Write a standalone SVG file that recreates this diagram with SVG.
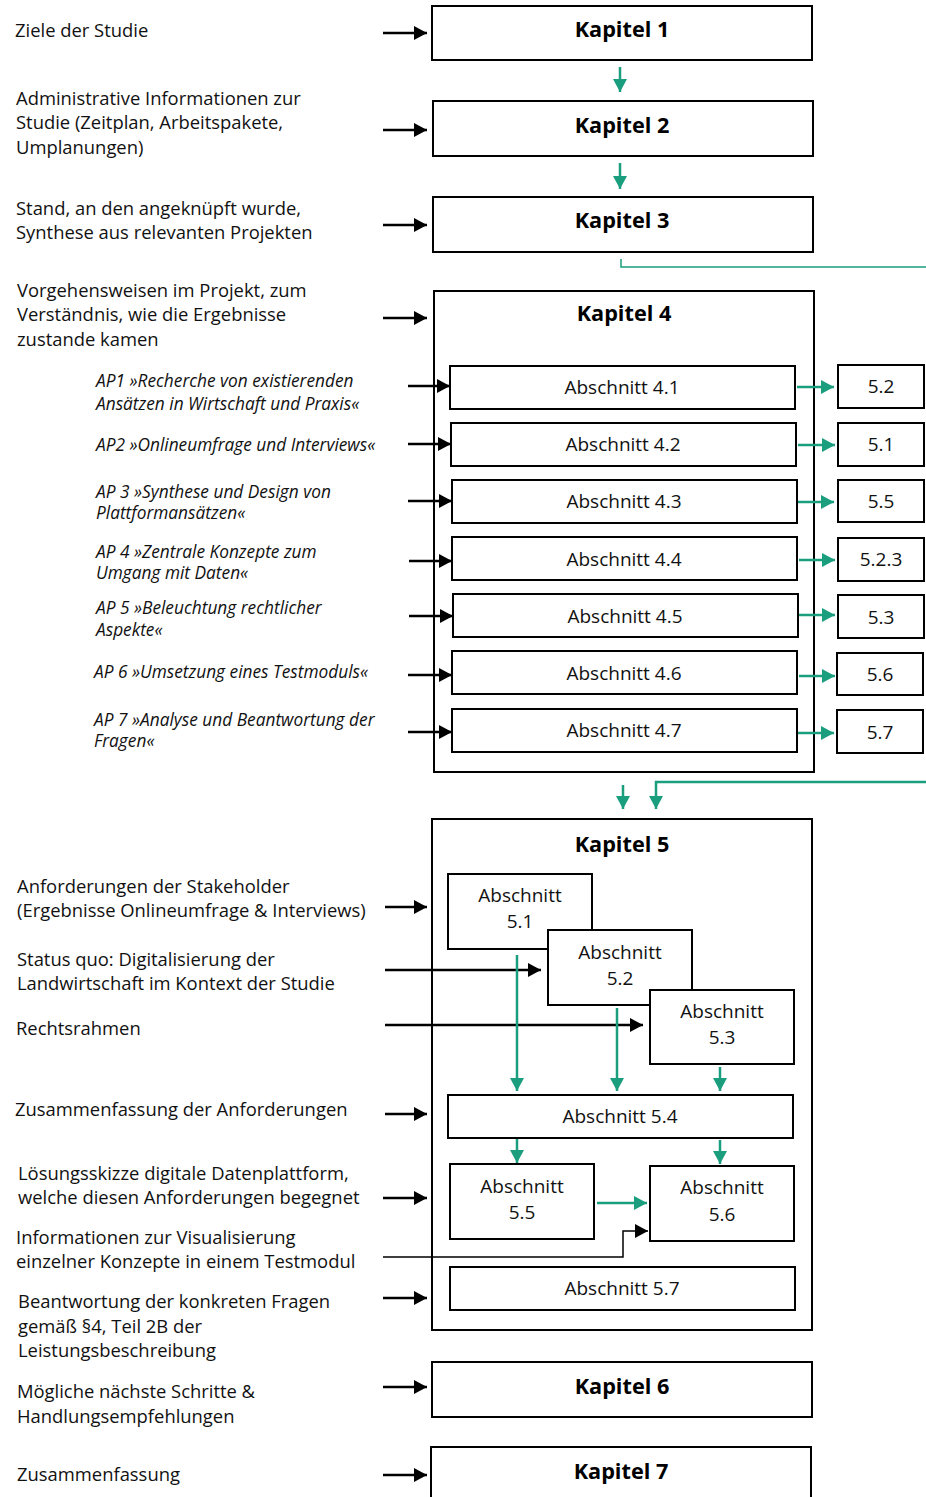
<svg xmlns="http://www.w3.org/2000/svg" width="926" height="1497" viewBox="0 0 926 1497">
  <defs>
    <marker id="ah-black" markerUnits="userSpaceOnUse" markerWidth="13" markerHeight="14" refX="13" refY="7" orient="auto">
      <path d="M0,0 L13,7 L0,14 Z" fill="#000"/>
    </marker>
    <marker id="ah-green" markerUnits="userSpaceOnUse" markerWidth="13" markerHeight="14" refX="13" refY="7" orient="auto">
      <path d="M0,0 L13,7 L0,14 Z" fill="#1a9e7e"/>
    </marker>
    <style>
      .box { fill: #fff; stroke: #000; stroke-width: 2; }
      .frame { fill: none; stroke: #000; stroke-width: 2; }
      .kap { font-family: "Open Sans", "Noto Sans", sans-serif; font-weight: bold; font-size: 21.7px; fill: #000; text-anchor: middle; }
      .sec { font-family: "Open Sans", "Noto Sans", sans-serif; font-size: 19px; fill: #111; text-anchor: middle; }
      .lbl { font-family: "Open Sans", "Noto Sans", sans-serif; font-size: 18.4px; fill: #111; }
      .ap { font-family: "Open Sans", "Noto Sans", sans-serif; font-style: italic; font-size: 17.3px; fill: #111; }
      .blk { fill: none; stroke: #000; stroke-width: 2.5; marker-end: url(#ah-black); }
      .blk-thin { fill: none; stroke: #000; stroke-width: 1.5; marker-end: url(#ah-black); }
      .grn { fill: none; stroke: #1a9e7e; stroke-width: 2.5; marker-end: url(#ah-green); }
      .grn-line { fill: none; stroke: #1a9e7e; stroke-width: 1.5; }
    </style>
  </defs>

  <!-- chapter boxes -->
  <g id="kapitel1"><rect class="box" x="432" y="6" width="380" height="54"/><text class="kap" x="622" y="37">Kapitel 1</text></g>
  <g id="kapitel2"><rect class="box" x="433" y="101" width="380" height="55"/><text class="kap" x="622" y="133">Kapitel 2</text></g>
  <g id="kapitel3"><rect class="box" x="433" y="197" width="380" height="55"/><text class="kap" x="622" y="228">Kapitel 3</text></g>

  <g id="kapitel4">
    <rect class="frame" x="434" y="291" width="380" height="481"/>
    <text class="kap" x="624" y="321">Kapitel 4</text>
  </g>
  <g id="abschnitt4-1"><rect class="box" x="450" y="366" width="345" height="43"/><text class="sec" x="622" y="394">Abschnitt 4.1</text></g>
  <g id="abschnitt4-2"><rect class="box" x="451" y="423" width="345" height="43"/><text class="sec" x="623" y="451">Abschnitt 4.2</text></g>
  <g id="abschnitt4-3"><rect class="box" x="452" y="480" width="345" height="43"/><text class="sec" x="624" y="508">Abschnitt 4.3</text></g>
  <g id="abschnitt4-4"><rect class="box" x="452" y="537" width="345" height="43"/><text class="sec" x="624" y="566">Abschnitt 4.4</text></g>
  <g id="abschnitt4-5"><rect class="box" x="453" y="594" width="345" height="43"/><text class="sec" x="625" y="623">Abschnitt 4.5</text></g>
  <g id="abschnitt4-6"><rect class="box" x="452" y="651" width="345" height="43"/><text class="sec" x="624" y="680">Abschnitt 4.6</text></g>
  <g id="abschnitt4-7"><rect class="box" x="452" y="709" width="345" height="43"/><text class="sec" x="624" y="737">Abschnitt 4.7</text></g>

  <!-- cross references into chapter 5 -->
  <g id="ref5-2"><rect class="box" x="838" y="365" width="86" height="43"/><text class="sec" x="881" y="393">5.2</text></g>
  <g id="ref5-1"><rect class="box" x="838" y="423" width="86" height="43"/><text class="sec" x="881" y="451">5.1</text></g>
  <g id="ref5-5"><rect class="box" x="838" y="480" width="86" height="42"/><text class="sec" x="881" y="508">5.5</text></g>
  <g id="ref5-2-3"><rect class="box" x="838" y="538" width="86" height="43"/><text class="sec" x="881" y="566">5.2.3</text></g>
  <g id="ref5-3"><rect class="box" x="838" y="595" width="86" height="43"/><text class="sec" x="881" y="624">5.3</text></g>
  <g id="ref5-6"><rect class="box" x="837" y="653" width="86" height="42"/><text class="sec" x="880" y="681">5.6</text></g>
  <g id="ref5-7"><rect class="box" x="837" y="710" width="86" height="43"/><text class="sec" x="880" y="739">5.7</text></g>

  <g id="kapitel5">
    <rect class="frame" x="432" y="819" width="380" height="511"/>
    <text class="kap" x="622" y="852">Kapitel 5</text>
  </g>
  <g id="abschnitt5-1"><rect class="box" x="448" y="874" width="144" height="75"/><text class="sec" x="520" y="902">Abschnitt</text><text class="sec" x="520" y="928">5.1</text></g>
  <g id="abschnitt5-2"><rect class="box" x="548" y="930" width="144" height="75"/><text class="sec" x="620" y="959">Abschnitt</text><text class="sec" x="620" y="985">5.2</text></g>
  <g id="abschnitt5-3"><rect class="box" x="650" y="990" width="144" height="74"/><text class="sec" x="722" y="1018">Abschnitt</text><text class="sec" x="722" y="1044">5.3</text></g>
  <g id="abschnitt5-4"><rect class="box" x="448" y="1095" width="345" height="43"/><text class="sec" x="620" y="1123">Abschnitt 5.4</text></g>
  <g id="abschnitt5-5"><rect class="box" x="450" y="1164" width="144" height="75"/><text class="sec" x="522" y="1193">Abschnitt</text><text class="sec" x="522" y="1219">5.5</text></g>
  <g id="abschnitt5-6"><rect class="box" x="650" y="1166" width="144" height="75"/><text class="sec" x="722" y="1194">Abschnitt</text><text class="sec" x="722" y="1221">5.6</text></g>
  <g id="abschnitt5-7"><rect class="box" x="450" y="1267" width="345" height="43"/><text class="sec" x="622" y="1295">Abschnitt 5.7</text></g>

  <g id="kapitel6"><rect class="box" x="432" y="1362" width="380" height="55"/><text class="kap" x="622" y="1394">Kapitel 6</text></g>
  <g id="kapitel7"><rect class="box" x="431" y="1447" width="380" height="60"/><text class="kap" x="621" y="1479">Kapitel 7</text></g>

  <!-- descriptions on the left -->
  <g id="labels">
    <text class="lbl" x="15" y="37">Ziele der Studie</text>
    <text class="lbl" x="16" y="105">Administrative Informationen zur</text>
    <text class="lbl" x="16" y="129">Studie (Zeitplan, Arbeitspakete,</text>
    <text class="lbl" x="16" y="154">Umplanungen)</text>
    <text class="lbl" x="16" y="215">Stand, an den angeknüpft wurde,</text>
    <text class="lbl" x="16" y="239">Synthese aus relevanten Projekten</text>
    <text class="lbl" x="17" y="297">Vorgehensweisen im Projekt, zum</text>
    <text class="lbl" x="17" y="321">Verständnis, wie die Ergebnisse</text>
    <text class="lbl" x="17" y="346">zustande kamen</text>

    <text class="ap" x="96" y="387">AP1 »Recherche von existierenden</text>
    <text class="ap" x="96" y="410">Ansätzen in Wirtschaft und Praxis«</text>
    <text class="ap" x="96" y="451">AP2 »Onlineumfrage und Interviews«</text>
    <text class="ap" x="96" y="498">AP 3 »Synthese und Design von</text>
    <text class="ap" x="96" y="519">Plattformansätzen«</text>
    <text class="ap" x="96" y="558">AP 4 »Zentrale Konzepte zum</text>
    <text class="ap" x="96" y="579">Umgang mit Daten«</text>
    <text class="ap" x="96" y="614">AP 5 »Beleuchtung rechtlicher</text>
    <text class="ap" x="96" y="636">Aspekte«</text>
    <text class="ap" x="94" y="678">AP 6 »Umsetzung eines Testmoduls«</text>
    <text class="ap" x="94" y="726">AP 7 »Analyse und Beantwortung der</text>
    <text class="ap" x="94" y="747">Fragen«</text>

    <text class="lbl" x="17" y="893">Anforderungen der Stakeholder</text>
    <text class="lbl" x="17" y="917">(Ergebnisse Onlineumfrage &amp; Interviews)</text>
    <text class="lbl" x="17" y="966">Status quo: Digitalisierung der</text>
    <text class="lbl" x="17" y="990">Landwirtschaft im Kontext der Studie</text>
    <text class="lbl" x="16" y="1035">Rechtsrahmen</text>
    <text class="lbl" x="15" y="1116">Zusammenfassung der Anforderungen</text>
    <text class="lbl" x="18" y="1180">Lösungsskizze digitale Datenplattform,</text>
    <text class="lbl" x="18" y="1204">welche diesen Anforderungen begegnet</text>
    <text class="lbl" x="16" y="1244">Informationen zur Visualisierung</text>
    <text class="lbl" x="16" y="1268">einzelner Konzepte in einem Testmodul</text>
    <text class="lbl" x="18" y="1308">Beantwortung der konkreten Fragen</text>
    <text class="lbl" x="18" y="1333">gemäß §4, Teil 2B der</text>
    <text class="lbl" x="18" y="1357">Leistungsbeschreibung</text>
    <text class="lbl" x="17" y="1398">Mögliche nächste Schritte &amp;</text>
    <text class="lbl" x="17" y="1423">Handlungsempfehlungen</text>
    <text class="lbl" x="17" y="1481">Zusammenfassung</text>
  </g>

  <!-- connectors -->
  <g id="connectors">
    <!-- inputs from the left -->
    <line class="blk" x1="383" y1="33" x2="427" y2="33"/>
    <line class="blk" x1="383" y1="130" x2="427" y2="130"/>
    <line class="blk" x1="383" y1="225" x2="427" y2="225"/>
    <line class="blk" x1="383" y1="318" x2="427" y2="318"/>
    <line class="blk" x1="408" y1="386" x2="450" y2="386"/>
    <line class="blk" x1="408" y1="444" x2="451" y2="444"/>
    <line class="blk" x1="408" y1="501" x2="452" y2="501"/>
    <line class="blk" x1="409" y1="561" x2="452" y2="561"/>
    <line class="blk" x1="409" y1="616" x2="453" y2="616"/>
    <line class="blk" x1="408" y1="675" x2="452" y2="675"/>
    <line class="blk" x1="408" y1="732" x2="452" y2="732"/>
    <line class="blk" x1="385" y1="907" x2="427" y2="907"/>
    <line class="blk" x1="385" y1="970" x2="541" y2="970"/>
    <line class="blk" x1="385" y1="1025" x2="643" y2="1025"/>
    <line class="blk" x1="385" y1="1114" x2="427" y2="1114"/>
    <line class="blk" x1="383" y1="1198" x2="427" y2="1198"/>
    <polyline class="blk-thin" points="383,1257 623,1257 623,1231 648,1231"/>
    <line class="blk" x1="383" y1="1298" x2="427" y2="1298"/>
    <line class="blk" x1="383" y1="1387" x2="427" y2="1387"/>
    <line class="blk" x1="383" y1="1475" x2="427" y2="1475"/>

    <!-- chapter flow -->
    <line class="grn" x1="620" y1="67" x2="620" y2="92"/>
    <line class="grn" x1="620" y1="163" x2="620" y2="189"/>
    <polyline class="grn-line" points="621,259 621,267 926,267"/>
    <line class="grn" x1="623" y1="785" x2="623" y2="809"/>
    <polyline class="grn" points="926,782 656,782 656,809"/>

    <!-- section 4 to section 5 references -->
    <line class="grn" x1="797" y1="387" x2="834" y2="387"/>
    <line class="grn" x1="798" y1="445" x2="835" y2="445"/>
    <line class="grn" x1="798" y1="502" x2="834" y2="502"/>
    <line class="grn" x1="799" y1="560" x2="835" y2="560"/>
    <line class="grn" x1="799" y1="615" x2="835" y2="615"/>
    <line class="grn" x1="799" y1="676" x2="835" y2="676"/>
    <line class="grn" x1="798" y1="733" x2="834" y2="733"/>

    <!-- inside chapter 5 -->
    <line class="grn" x1="517" y1="955" x2="517" y2="1091"/>
    <line class="grn" x1="617" y1="1008" x2="617" y2="1091"/>
    <line class="grn" x1="720" y1="1067" x2="720" y2="1091"/>
    <line class="grn" x1="517" y1="1139" x2="517" y2="1163"/>
    <line class="grn" x1="720" y1="1140" x2="720" y2="1164"/>
    <line class="grn" x1="597" y1="1203" x2="647" y2="1203"/>
  </g>
</svg>
